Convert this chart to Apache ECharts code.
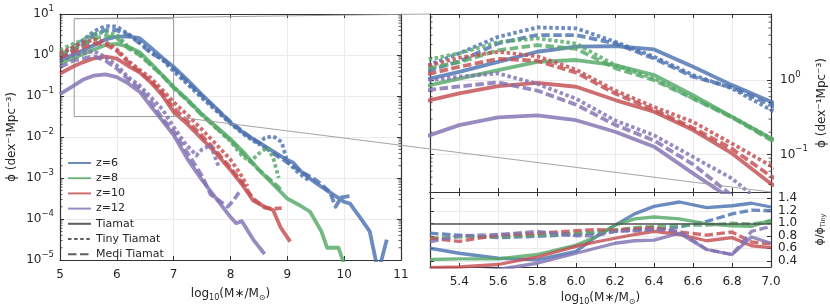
<!DOCTYPE html>
<html><head><meta charset="utf-8">
<script src="https://cdn.jsdelivr.net/npm/echarts@6/dist/echarts.min.js"></script>
<style>html,body{margin:0;padding:0;background:#fff}#c{width:830px;height:307px}</style>
</head><body><div id="c"></div>
<script>
// ---------------- data ----------------
// log10(M*/Msun) and phi (dex^-1 Mpc^-3); T = Tiamat, Ti = Tiny Tiamat, M = Medi Tiamat
const x_T6  = [5.0,5.25,5.4,5.6,5.8,6.0,6.2,6.4,6.6,6.8,7.0,7.25,7.5,7.75,8.0,8.25,8.5,8.75,9.0,9.1,9.25,9.5,9.75,10.0,10.1,10.3,10.45,10.6,10.75];
const phi_T6 = [0.74,1.05,1.29,1.76,2.40,2.81,2.86,2.58,1.51,0.857,0.513,0.240,0.107,0.0501,0.0224,0.0120,0.00741,0.00447,0.00275,0.00240,0.00141,0.000759,0.000447,0.000263,0.000240,0.0001,0.0000501,0.00000501,0.0000316];
const x_Ti6 = [5.0,5.25,5.4,5.6,5.8,6.0,6.2,6.4,6.6,6.8,7.0,7.25,7.5,7.75,8.0,8.25,8.5,8.6,8.75,8.9,9.0,9.2,9.4];
const phi_Ti6 = [1.0,1.62,2.29,3.80,5.09,4.94,3.27,2.06,1.17,0.774,0.398,0.191,0.0891,0.0437,0.0214,0.0112,0.00661,0.00955,0.0105,0.00759,0.00251,0.00132,0.000832];
const x_M6  = [5.0,5.25,5.4,5.6,5.8,6.0,6.2,6.4,6.6,6.8,7.0,7.25,7.5,7.75,8.0,8.25,8.5,8.75,9.0,9.25,9.45,9.6,9.75,9.85,9.95,10.15];
const phi_M6 = [0.891,1.36,1.78,3.11,4.02,4.02,3.11,1.95,1.11,0.798,0.462,0.209,0.1,0.0479,0.0234,0.0126,0.00708,0.00398,0.0024,0.00141,0.001,0.000708,0.000447,0.0002,0.000339,0.000372];

const x_T8  = [5.0,5.25,5.4,5.6,5.8,6.0,6.2,6.4,6.6,6.8,7.0,7.25,7.5,7.75,8.0,8.25,8.5,8.75,9.0,9.2,9.4,9.6,9.7,9.9,10.0];
const phi_T8 = [0.631,0.857,1.05,1.36,1.76,1.86,1.59,1.17,0.63,0.322,0.165,0.0794,0.0355,0.0178,0.00891,0.00398,0.00158,0.000708,0.000316,0.000224,0.000151,0.0000501,0.00002,0.00002,0.00000794];
const x_Ti8 = [5.0,5.25,5.4,5.6,5.8,6.0,6.2,6.4,6.6,6.8,7.0,7.25,7.5,7.75,8.0,8.2,8.35,8.5,8.65,8.75,8.85];
const phi_Ti8 = [1.32,1.91,2.29,3.24,3.63,3.09,1.58,1.05,0.568,0.322,0.166,0.0794,0.0355,0.0166,0.00794,0.00355,0.00251,0.00398,0.00562,0.00316,0.001];
const x_M8  = [5.0,5.25,5.4,5.6,5.8,6.0,6.2,6.4,6.6,6.8,7.0,7.25,7.5,7.75,8.0,8.25,8.5,8.75,8.9];
const phi_M8 = [1.05,1.45,1.74,2.51,2.95,2.63,1.45,1.0,0.568,0.316,0.157,0.0759,0.0339,0.0166,0.00832,0.00355,0.00158,0.000794,0.000501];

const x_T10 = [5.0,5.25,5.4,5.6,5.8,6.0,6.2,6.4,6.6,6.8,7.0,7.25,7.5,7.75,8.0,8.2,8.4,8.6,8.75,8.88,9.05];
const phi_T10 = [0.355,0.540,0.662,0.832,0.92,0.815,0.540,0.376,0.214,0.104,0.0407,0.02,0.00891,0.00398,0.00158,0.000708,0.000282,0.0002,0.000166,0.0000631,0.0000282];
const x_Ti10 = [5.0,5.25,5.4,5.6,5.8,6.0,6.2,6.4,6.6,6.8,7.0,7.25,7.5,7.75,8.0,8.15,8.3];
const phi_Ti10 = [1.12,1.58,2.0,2.40,2.09,1.38,0.724,0.437,0.275,0.141,0.0708,0.0339,0.0151,0.00661,0.00282,0.00141,0.000631];
const x_M10 = [5.0,5.25,5.4,5.6,5.8,6.0,6.2,6.4,6.6,6.8,7.0,7.25,7.5,7.75,8.0,8.2,8.4,8.6,8.75,8.9];
const phi_M10 = [0.851,1.22,1.51,1.93,1.82,1.26,0.661,0.398,0.229,0.120,0.0513,0.024,0.0107,0.00447,0.00178,0.000794,0.000316,0.000191,0.000178,0.000186];

const x_T12 = [5.0,5.25,5.4,5.6,5.8,6.0,6.2,6.4,6.6,6.8,7.0,7.25,7.5,7.75,8.0,8.1,8.2,8.4,8.6];
const phi_T12 = [0.112,0.183,0.249,0.316,0.336,0.290,0.203,0.128,0.0562,0.0251,0.0112,0.00282,0.000891,0.000316,0.000112,0.0000794,0.0000891,0.0000316,0.0000141];
const x_Ti12 = [5.0,5.25,5.4,5.6,5.8,6.0,6.2,6.4,6.6,6.8,7.0,7.2,7.4,7.5,7.65,7.8];
const phi_Ti12 = [0.708,1.0,1.11,1.23,0.891,0.562,0.288,0.182,0.0933,0.0479,0.0178,0.00708,0.00355,0.00501,0.00631,0.00178];
const x_M12 = [5.0,5.25,5.4,5.6,5.8,6.0,6.2,6.4,6.6,6.8,7.0,7.25,7.5,7.65,7.8,7.95,8.05,8.15];
const phi_M12 = [0.501,0.741,0.822,0.933,0.724,0.468,0.251,0.155,0.0741,0.0282,0.0141,0.00398,0.00112,0.000398,0.000282,0.0002,0.000282,0.000447];

// ratio panel  (phi / phi_Tiny)
const ratioX = [5.25,5.4,5.6,5.8,6.0,6.1,6.2,6.3,6.4,6.53,6.67,6.8,6.9,7.0];
const ratioT6  = [0.6,0.52,0.44,0.415,0.55,0.78,0.97,1.15,1.27,1.34,1.25,1.28,1.32,1.26];
const ratioM6  = [0.84,0.81,0.77,0.79,0.82,0.84,0.87,0.89,0.9,0.94,1.03,1.15,1.21,1.2];
const ratioT8  = [0.42,0.43,0.43,0.5,0.65,0.78,0.97,1.07,1.1,1.07,0.99,0.96,0.95,1.05];
const ratioM8  = [0.76,0.78,0.79,0.81,0.84,0.86,0.89,0.93,0.95,0.97,0.97,1.0,0.99,1.03];
const ratioT10 = [0.29,0.3,0.34,0.46,0.63,0.7,0.76,0.82,0.87,0.82,0.72,0.77,0.64,0.61];
const ratioM10 = [0.76,0.71,0.81,0.84,0.88,0.9,0.89,0.91,0.93,0.86,0.81,0.86,0.7,0.67];
const ratioT12 = [0.2,0.22,0.26,0.36,0.52,0.6,0.68,0.72,0.73,0.84,0.58,0.5,0.78,0.68];
const ratioM12 = [0.7,0.8,0.82,0.87,0.8,0.8,0.87,0.88,0.9,0.87,0.58,0.5,0.87,0.95];

// axis ranges
const mainX = [5, 11];
const mainY = [1e-5, 10];
const INSET_X = [5.25, 7.0];
const INSET_Y = [0.0316, 7.7];
const RATIO_Y = [0.3, 1.5];
const legendZ = ['z=6','z=8','z=10','z=12'];
const legendSim = ['Tiamat','Tiny Tiamat','Medi Tiamat'];

// ---------------- styling ----------------
const FONT = 'DejaVu Sans';
const TXT = '#262626';
const COL = {z6:'#4C72B0', z8:'#55A868', z10:'#C44E52', z12:'#8172B2'};
const DOT = [3.5, 2.6], DASH = [8.5, 3.5];
const LW = 3.8, ALPHA = 0.82;

function lineS(name, xs, ys, color, type, idx, width) {
  return {type:'line', name: name, xAxisIndex: idx, yAxisIndex: idx,
    data: xs.map((x,i)=>[x, ys[i]]), symbol:'none', silent:true, animation:false,
    lineStyle:{color: color, width: width || LW, type: type, opacity: ALPHA, cap:'butt', join:'round'},
    itemStyle:{color: color}, z: 3};
}

const groups = [
  ['z6', x_T6, phi_T6, x_Ti6, phi_Ti6, x_M6, phi_M6, ratioT6, ratioM6],
  ['z8', x_T8, phi_T8, x_Ti8, phi_Ti8, x_M8, phi_M8, ratioT8, ratioM8],
  ['z10', x_T10, phi_T10, x_Ti10, phi_Ti10, x_M10, phi_M10, ratioT10, ratioM10],
  ['z12', x_T12, phi_T12, x_Ti12, phi_Ti12, x_M12, phi_M12, ratioT12, ratioM12]
];

const series = [];
// inset rectangle (from the inset axis range)
series.push({type:'line', xAxisIndex:0, yAxisIndex:0, symbol:'none', silent:true, animation:false, z:1,
  data:[[INSET_X[0],INSET_Y[0]],[INSET_X[1],INSET_Y[0]],[INSET_X[1],INSET_Y[1]],[INSET_X[0],INSET_Y[1]],[INSET_X[0],INSET_Y[0]]],
  lineStyle:{color:'#9a9a9a', width:1}});

groups.forEach(g => {
  const c = COL[g[0]];
  for (const idx of [0,1]) {
    series.push(lineS('', g[1], g[2], c, 'solid', idx));
    series.push(lineS('', g[3], g[4], c, DOT, idx));
    series.push(lineS('', g[5], g[6], c, DASH, idx));
  }
  series.push(lineS('', ratioX, g[7], c, 'solid', 2, 3.3));
  series.push(lineS('', ratioX, g[8], c, DASH, 2, 3.3));
});
// unity line in the ratio panel
series.push({type:'line', xAxisIndex:2, yAxisIndex:2, data:[], symbol:'none', silent:true,
  markLine:{silent:true, symbol:'none', animation:false, label:{show:false},
    lineStyle:{color:'#555', width:1.5, type:'solid'}, data:[{yAxis:1.0}]}});

// legend proxies
const legendDefs = [
  ['z=6', COL.z6, 'solid'], ['z=8', COL.z8, 'solid'], ['z=10', COL.z10, 'solid'], ['z=12', COL.z12, 'solid'],
  ['Tiamat', '#3a3a3a', 'solid'], ['Tiny Tiamat', '#3a3a3a', DOT], ['Medi Tiamat', '#3a3a3a', DASH]
];
legendDefs.forEach(d => series.push({type:'line', name:d[0], xAxisIndex:0, yAxisIndex:0, data:[], symbol:'none',
  lineStyle:{color:d[1], width:4, type:d[2], opacity:ALPHA, cap:'butt'}, itemStyle:{color:d[1]}}));

// minor ticks on log axes (decorations)
function minorVals(lo, hi) {
  const out = [];
  for (let e = -6; e <= 2; e++) for (let m = 2; m <= 9; m++) {
    const v = m * Math.pow(10, e);
    if (v > lo * 1.0001 && v < hi * 0.9999) out.push(v);
  }
  return out;
}
function minorTicks(idx, xv, vals) {
  return {type:'custom', xAxisIndex:idx, yAxisIndex:idx, silent:true, animation:false, clip:false, z:5,
    data: vals.map(v=>[xv, v]), encode:{x:0, y:1},
    renderItem: function(params, api) {
      const cs = params.coordSys;
      const y = api.coord([api.value(0), api.value(1)])[1];
      const st = {stroke:'#333', lineWidth:0.8};
      return {type:'group', children:[
        {type:'line', shape:{x1:cs.x, y1:y, x2:cs.x+2.5, y2:y}, style:st},
        {type:'line', shape:{x1:cs.x+cs.width-2.5, y1:y, x2:cs.x+cs.width, y2:y}, style:st}
      ]};
    }};
}
series.push(minorTicks(0, mainX[0], minorVals(mainY[0], mainY[1])));
series.push(minorTicks(1, INSET_X[0], minorVals(INSET_Y[0], INSET_Y[1])));

// ---------------- axes ----------------
const supRich = {s:{fontSize:8.5, lineHeight:8, verticalAlign:'top', fontFamily:FONT, color:TXT}};
function powLabel(v) {
  const l = Math.log10(v), e = Math.round(l);
  if (Math.abs(l - e) > 1e-6) return '';
  return '10{s|' + (e < 0 ? '\u2212' + (-e) : e) + '}';
}
const spine = {show:true, onZero:false, lineStyle:{color:'#333', width:1.2}};
const tick = {show:true, inside:true, length:4, lineStyle:{color:'#333', width:1}};
const grid = {show:true, lineStyle:{color:'#ebebeb', width:1}};
const lbl = {fontFamily:FONT, fontSize:12, color:TXT};
const nameRich = {s:{fontSize:8, lineHeight:8, verticalAlign:'bottom', fontFamily:FONT, color:TXT}};
const massName = 'log{s|10}(M\u2217/M{s|\u2299})';

function xAx(gridIndex, range, opts) {
  return Object.assign({type:'value', gridIndex, min:range[0], max:range[1], axisLine:spine, axisTick:tick,
    splitLine:{show:false}, axisLabel:{show:false}}, opts);
}
function yAx(gridIndex, range, opts) {
  return Object.assign({type:'value', gridIndex, min:range[0], max:range[1], axisLine:spine, axisTick:tick,
    splitLine:{show:false}, axisLabel:{show:false}}, opts);
}
const insetXOpts = {splitNumber:8, minInterval:0.2, maxInterval:0.2};

const xAxis = [
  xAx(0, mainX, {position:'bottom', interval:1, splitLine:grid,
     axisLabel:Object.assign({show:true, margin:9}, lbl),
     name:massName, nameLocation:'middle', nameGap:23,
     nameTextStyle:{fontFamily:FONT, fontSize:12, color:TXT, lineHeight:16, rich:nameRich}}),
  xAx(1, INSET_X, Object.assign({position:'bottom', splitLine:grid}, insetXOpts)),
  xAx(2, INSET_X, Object.assign({position:'bottom', splitLine:grid,
     axisLabel:Object.assign({show:true, margin:9, showMinLabel:false, formatter:v=>v.toFixed(1)}, lbl),
     name:massName, nameLocation:'middle', nameGap:23,
     nameTextStyle:{fontFamily:FONT, fontSize:12, color:TXT, lineHeight:16, rich:nameRich}}, insetXOpts)),
  xAx(0, mainX, {position:'top', interval:1}),
  xAx(1, INSET_X, Object.assign({position:'top'}, insetXOpts)),
  xAx(2, INSET_X, Object.assign({position:'top'}, insetXOpts))
];

const yAxis = [
  yAx(0, mainY, {type:'log', logBase:10, position:'left', splitNumber:6, splitLine:grid,
     axisLabel:Object.assign({show:true, margin:6, lineHeight:20, formatter:powLabel, rich:supRich}, lbl),
     name:'\u03d5 (dex\u207b\u00b9Mpc\u207b\u00b3)', nameLocation:'middle', nameGap:42, nameRotate:90,
     nameTextStyle:{fontFamily:FONT, fontSize:12, color:TXT}}),
  yAx(1, INSET_Y, {type:'log', logBase:10, position:'right', splitNumber:3, splitLine:grid,
     axisLabel:Object.assign({show:true, margin:9, lineHeight:20, formatter:powLabel, rich:supRich,
        showMinLabel:false, showMaxLabel:false}, lbl),
     name:'\u03d5 (dex\u207b\u00b9Mpc\u207b\u00b3)', nameLocation:'middle', nameGap:45, nameRotate:90,
     nameTextStyle:{fontFamily:FONT, fontSize:12, color:TXT}}),
  yAx(2, RATIO_Y, {position:'right', splitNumber:6, minInterval:0.2, maxInterval:0.2, splitLine:grid,
     axisLabel:Object.assign({show:true, margin:7, showMinLabel:false, showMaxLabel:false,
        formatter:v=>v.toFixed(1)}, lbl),
     name:'\u03d5/\u03d5{t|Tiny}', nameLocation:'middle', nameGap:42, nameRotate:90,
     nameTextStyle:{fontFamily:FONT, fontSize:11, color:TXT, lineHeight:14,
        rich:{t:{fontSize:6.5, lineHeight:6, verticalAlign:'bottom', fontFamily:FONT, color:TXT}}}}),
  yAx(0, mainY, {type:'log', logBase:10, position:'right', splitNumber:6}),
  yAx(1, INSET_Y, {type:'log', logBase:10, position:'left', splitNumber:3}),
  yAx(2, RATIO_Y, {position:'left', splitNumber:6, minInterval:0.2, maxInterval:0.2})
];

const option = {
  animation:false,
  backgroundColor:'#fff',
  textStyle:{fontFamily:FONT},
  grid:[
    {left:60, top:14, width:341, height:253},
    {left:430, top:14, width:341, height:178},
    {left:430, top:192, width:341, height:76}
  ],
  xAxis, yAxis, series,
  legend:{show:true, data: legendZ.concat(legendSim), orient:'vertical', left:67, top:157,
    itemWidth:23, itemHeight:10, itemGap:3.2, selectedMode:false, icon:'inherit',
    itemStyle:{opacity:0}, textStyle:{fontFamily:FONT, fontSize:11, color:TXT, lineHeight:12}, padding:0}
};

const chart = echarts.init(document.getElementById('c'), null, {renderer:'canvas'});
chart.setOption(option);

// connector lines between the inset rectangle and the zoomed panel
const a1 = chart.convertToPixel({xAxisIndex:0, yAxisIndex:0}, [INSET_X[0], INSET_Y[1]]);
const b1 = chart.convertToPixel({xAxisIndex:1, yAxisIndex:1}, [INSET_X[0], INSET_Y[1]]);
const a2 = chart.convertToPixel({xAxisIndex:0, yAxisIndex:0}, [INSET_X[1], INSET_Y[0]]);
const b2 = chart.convertToPixel({xAxisIndex:1, yAxisIndex:1}, [INSET_X[1], INSET_Y[0]]);
chart.setOption({graphic:[
  {type:'line', silent:true, z:100, shape:{x1:a1[0], y1:a1[1], x2:b1[0], y2:b1[1]}, style:{stroke:'#9a9a9a', lineWidth:0.9}},
  {type:'line', silent:true, z:100, shape:{x1:a2[0], y1:a2[1], x2:b2[0], y2:b2[1]}, style:{stroke:'#9a9a9a', lineWidth:0.9}}
]});
</script></body></html>
